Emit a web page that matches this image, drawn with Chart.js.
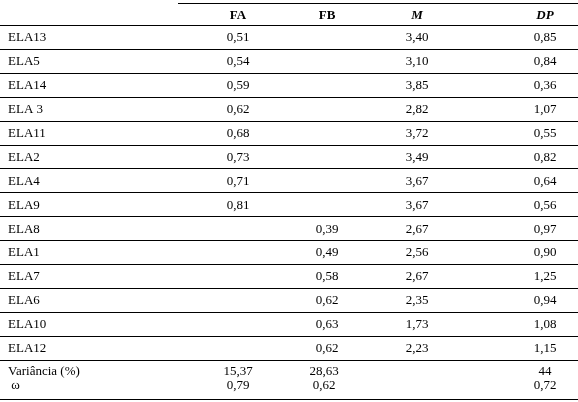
<!DOCTYPE html>
<html>
<head>
<meta charset="utf-8">
<script src="https://cdn.jsdelivr.net/npm/chart.js@4"></script>
<style>
  html, body { margin: 0; padding: 0; background: #fff; }
  #wrap { width: 578px; height: 402px; }
</style>
</head>
<body>
<div id="wrap"><canvas id="tbl"></canvas></div>
<script>
// table data
const headers = ['FA', 'FB', 'M', 'DP'];
const items = ['ELA13', 'ELA5', 'ELA14', 'ELA 3', 'ELA11', 'ELA2', 'ELA4', 'ELA9',
               'ELA8', 'ELA1', 'ELA7', 'ELA6', 'ELA10', 'ELA12'];
const fa = ['0,51', '0,54', '0,59', '0,62', '0,68', '0,73', '0,71', '0,81', null, null, null, null, null, null];
const fb = [null, null, null, null, null, null, null, null, '0,39', '0,49', '0,58', '0,62', '0,63', '0,62'];
const m  = ['3,40', '3,10', '3,85', '2,82', '3,72', '3,49', '3,67', '3,67', '2,67', '2,56', '2,67', '2,35', '1,73', '2,23'];
const dp = ['0,85', '0,84', '0,36', '1,07', '0,55', '0,82', '0,64', '0,56', '0,97', '0,90', '1,25', '0,94', '1,08', '1,15'];
const footLabels = ['Variância (%)', ' ω'];
const footFA = ['15,37', '0,79'];
const footFB = ['28,63', '0,62'];
const footDP = ['44', '0,72'];

// layout (pixels)
const colX = [238, 327, 417, 545];
const headTop = 3, headBottom = 25, rowH = 23.9;
const footY = [372, 386], bottomY = 399;

const tablePlugin = {
  id: 'tablePlugin',
  afterDraw(chart) {
    const ctx = chart.ctx;
    const xs = chart.scales.x, ys = chart.scales.y;
    const X = v => xs.getPixelForValue(v);
    const Y = v => ys.getPixelForValue(v);
    ctx.save();
    ctx.strokeStyle = '#000';
    ctx.lineWidth = 1;
    const hline = (x0, x1, y) => {
      ctx.beginPath(); ctx.moveTo(X(x0), Math.round(Y(y)) + 0.5); ctx.lineTo(X(x1), Math.round(Y(y)) + 0.5); ctx.stroke();
    };
    hline(178, 578, headTop);
    hline(0, 578, headBottom);
    for (let i = 0; i < items.length; i++) hline(0, 578, headBottom + (i + 1) * rowH);
    hline(0, 578, bottomY);

    ctx.fillStyle = '#000';
    ctx.textBaseline = 'middle';
    // header
    ctx.textAlign = 'center';
    headers.forEach((h, j) => {
      ctx.font = (j < 2 ? 'bold ' : 'italic bold ') + '13px "Liberation Serif"';
      ctx.fillText(h, X(colX[j]), Y((headTop + headBottom) / 2 + 2));
    });
    ctx.font = '13px "Liberation Serif"';
    const cols = [fa, fb, m, dp];
    items.forEach((name, i) => {
      const y = Y(headBottom + (i + 0.5) * rowH + 1);
      ctx.textAlign = 'left';
      ctx.fillText(name, X(8), y);
      ctx.textAlign = 'center';
      cols.forEach((c, j) => { if (c[i] !== null) ctx.fillText(c[i], X(colX[j]), y); });
    });
    const footCols = [footFA, footFB, null, footDP];
    footLabels.forEach((name, i) => {
      const y = Y(footY[i]);
      ctx.textAlign = 'left';
      ctx.fillText(name, X(8), y);
      ctx.textAlign = 'center';
      footCols.forEach((c, j) => { if (c) ctx.fillText(c[i], X(colX[j] - (j === 1 ? 3 : 0)), y); });
    });
    ctx.restore();
  }
};

new Chart(document.getElementById('tbl'), {
  type: 'scatter',
  data: { datasets: [{ data: [] }] },
  options: {
    responsive: true,
    maintainAspectRatio: false,
    animation: false,
    layout: { padding: 0 },
    scales: {
      x: { type: 'linear', min: 0, max: 578, display: false },
      y: { type: 'linear', min: 0, max: 402, reverse: true, display: false }
    },
    plugins: { legend: { display: false }, tooltip: { enabled: false } }
  },
  plugins: [tablePlugin]
});
</script>
</body>
</html>
